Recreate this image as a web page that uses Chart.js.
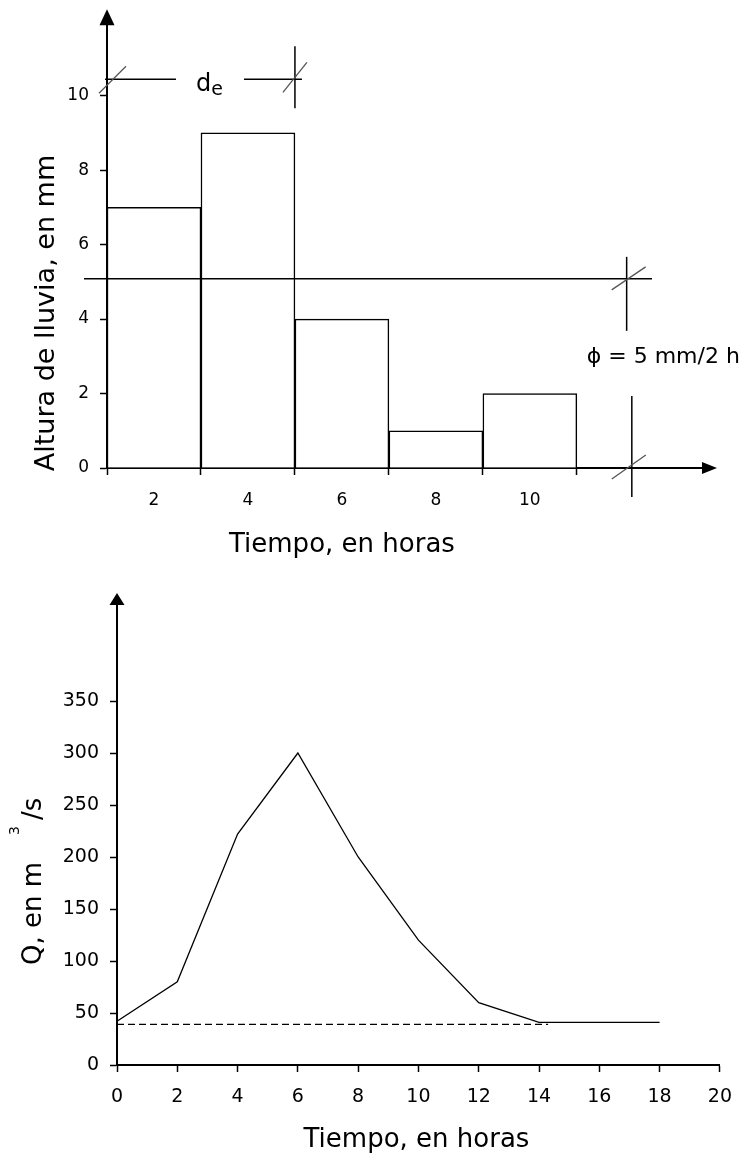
<!DOCTYPE html>
<html><head><meta charset="utf-8">
<script src="https://cdn.jsdelivr.net/npm/chart.js@4.4.0/dist/chart.umd.min.js"></script>
<style>
html,body{margin:0;padding:0;background:#fff;}
#wrap{position:relative;width:746px;height:1154px;background:#fff;}
canvas{position:absolute;left:0;}
#c1{top:0;}
#c2{top:570px;}
</style></head><body>
<div id="wrap"><canvas id="c1" width="746" height="570"></canvas><canvas id="c2" width="746" height="584"></canvas></div>
<script>
// ---------- data: rainfall hyetograph ----------
const rainHours = [2, 4, 6, 8, 10];
const rainDepth = [7, 9, 4, 1, 2];
const rainXTickLabels = ['2', '4', '6', '8', '10'];
const rainBinEdges = [1, 3, 5, 7, 9, 11];
const rainYTicks = [0, 2, 4, 6, 8, 10];
const phiIndex = 5.08;              // mm per 2 h line
const phiLabel = 'ϕ = 5 mm/2 h';
const deLevel = 10.44;
const deStart = 1, deEnd = 5;
const rainXTitle = 'Tiempo, en horas';
const rainYTitle = 'Altura de lluvia, en mm';

// ---------- data: hydrograph ----------
const flowHours = [0, 2, 4, 6, 8, 10, 12, 14, 16, 18];
const flowQ = [42, 80, 222, 300, 200, 120, 60, 41, 41, 41];
const baseHours = [0, 14.3];
const baseQ = [39, 39];
const flowXTicks = [0, 2, 4, 6, 8, 10, 12, 14, 16, 18, 20];
const flowYTicks = [0, 50, 100, 150, 200, 250, 300, 350];
const flowXTitle = 'Tiempo, en horas';
const flowYTitleMain = 'Q, en m';
const flowYTitleSup = '3';
const flowYTitleEnd = '/s';

const FONT = "'DejaVu Sans', Verdana, sans-serif";
Chart.defaults.font.family = FONT;
Chart.defaults.color = '#000';

function seg(ctx, x1, y1, x2, y2) { ctx.beginPath(); ctx.moveTo(x1, y1); ctx.lineTo(x2, y2); ctx.stroke(); }
function arrowUp(ctx, x, tip, len, half) { ctx.beginPath(); ctx.moveTo(x, tip); ctx.lineTo(x - half, tip + len); ctx.lineTo(x + half, tip + len); ctx.closePath(); ctx.fill(); }
function arrowRight(ctx, tip, y, len, half) { ctx.beginPath(); ctx.moveTo(tip, y); ctx.lineTo(tip - len, y - half); ctx.lineTo(tip - len, y + half); ctx.closePath(); ctx.fill(); }

const rainDecor = {
  id: 'rainDecor',
  afterDraw(chart) {
    const { ctx, chartArea: a, scales: { x, y } } = chart;
    ctx.save();
    ctx.fillStyle = '#000'; ctx.strokeStyle = '#000';
    arrowUp(ctx, a.left, a.top - 12, 16, 7.5);
    arrowRight(ctx, a.right + 10, a.bottom, 15, 6);

    // phi index line
    ctx.lineWidth = 1.5;
    const yp = y.getPixelForValue(phiIndex);
    seg(ctx, x.getPixelForValue(0.51), yp, x.getPixelForValue(12.6), yp);

    // d_e dimension line
    const yd = y.getPixelForValue(deLevel);
    const xs = x.getPixelForValue(deStart), xe = x.getPixelForValue(deEnd);
    const xm = (xs + xe) / 2 + 9;
    seg(ctx, xs - 2, yd, xm - 34, yd);
    seg(ctx, xm + 34, yd, xe + 7, yd);
    seg(ctx, xe, yd - 33, xe, yd + 29);
    ctx.font = '24px ' + FONT;
    ctx.textBaseline = 'alphabetic'; ctx.textAlign = 'left';
    const wd = ctx.measureText('d').width;
    ctx.fillText('d', xm - 14, yd + 12);
    ctx.font = '19px ' + FONT;
    ctx.fillText('e', xm - 14 + wd, yd + 16);

    // phi verticals
    const xv1 = x.getPixelForValue(12.06), xv2 = x.getPixelForValue(12.17);
    seg(ctx, xv1, yp - 22, xv1, yp + 52);
    seg(ctx, xv2, a.bottom - 72, xv2, a.bottom + 29);
    ctx.font = '22px ' + FONT;
    ctx.fillText(phiLabel, x.getPixelForValue(11.21), y.getPixelForValue(2.82));

    // slashes
    ctx.strokeStyle = '#555'; ctx.lineWidth = 1.3;
    seg(ctx, xs - 8, yd + 14, xs + 19, yd - 13);
    seg(ctx, xe - 12, yd + 13, xe + 12, yd - 17);
    seg(ctx, xv1 - 15, yp + 11, xv1 + 19, yp - 12);
    seg(ctx, xv2 - 20, a.bottom + 11, xv2 + 14, a.bottom - 13);

    // titles
    ctx.fillStyle = '#000';
    ctx.font = '26px ' + FONT; ctx.textAlign = 'center';
    const xc = (x.getPixelForValue(rainBinEdges[0]) + x.getPixelForValue(rainBinEdges[rainBinEdges.length - 1])) / 2;
    ctx.fillText(rainXTitle, xc, 552);
    ctx.save();
    ctx.translate(54, 313); ctx.rotate(-Math.PI / 2);
    ctx.font = '27px ' + FONT; ctx.textAlign = 'center';
    ctx.fillText(rainYTitle, 0, 0);
    ctx.restore();
    ctx.restore();
  }
};

new Chart(document.getElementById('c1'), {
  type: 'bar',
  data: {
    datasets: [{
      data: rainHours.map((h, i) => ({ x: h, y: rainDepth[i] })),
      backgroundColor: '#fff', borderColor: '#000', borderWidth: 1.5,
      barPercentage: 1, categoryPercentage: 1, xAxisID: 'x', yAxisID: 'y'
    }]
  },
  options: {
    responsive: false, animation: false, events: [],
    layout: { padding: { left: 0, right: 39, top: 19, bottom: 0 } },
    plugins: { legend: { display: false }, tooltip: { enabled: false } },
    scales: {
      x: {
        type: 'linear', position: 'bottom', weight: 0, min: 1, max: 13.77, offset: false,
        afterBuildTicks(s) { s.ticks = rainBinEdges.map(v => ({ value: v })); },
        afterFit(s) { s.height = 10; },
        grid: { drawOnChartArea: false, offset: false, drawTicks: true, tickLength: 7, tickWidth: 1.5, tickColor: '#000' },
        border: { display: true, color: '#000', width: 2 },
        ticks: { display: false }
      },
      x2: {
        type: 'linear', position: 'bottom', weight: 1, min: 1, max: 13.77, offset: false,
        afterBuildTicks(s) { s.ticks = rainHours.map(v => ({ value: v })); },
        afterFit(s) { s.height = 92; },
        grid: { display: false, drawTicks: false },
        border: { display: false },
        ticks: { autoSkip: false, maxRotation: 0, padding: 12, font: { size: 17 },
          callback: (v) => { const i = rainHours.indexOf(v); return i >= 0 ? rainXTickLabels[i] : ''; } }
      },
      y: {
        type: 'linear', min: 0, max: 12,
        afterBuildTicks(s) { s.ticks = rainYTicks.map(v => ({ value: v })); },
        afterFit(s) { s.width = 107; },
        grid: { drawOnChartArea: false, tickLength: 7, tickWidth: 1.5, tickColor: '#000' },
        border: { display: true, color: '#000', width: 2 },
        ticks: { padding: 11, font: { size: 17 } }
      }
    }
  },
  plugins: [rainDecor]
});

const flowDecor = {
  id: 'flowDecor',
  afterDraw(chart) {
    const { ctx, chartArea: a, scales: { x } } = chart;
    ctx.save();
    ctx.fillStyle = '#000';
    arrowUp(ctx, a.left, a.top - 4, 12, 7.5);
    ctx.font = '26px ' + FONT; ctx.textAlign = 'center'; ctx.textBaseline = 'alphabetic';
    ctx.fillText(flowXTitle, (a.left + a.right) / 2 - 2, 577);
    ctx.translate(41, 395); ctx.rotate(-Math.PI / 2);
    ctx.textAlign = 'left';
    ctx.fillText(flowYTitleMain, 0, 0);
    ctx.font = '14px ' + FONT;
    ctx.fillText(flowYTitleSup, 130, -22);
    ctx.font = '26px ' + FONT;
    ctx.fillText(flowYTitleEnd, 145, 0);
    ctx.restore();
  }
};

new Chart(document.getElementById('c2'), {
  type: 'line',
  data: {
    datasets: [
      { data: flowHours.map((h, i) => ({ x: h, y: flowQ[i] })), borderColor: '#000', borderWidth: 1.3, pointRadius: 0, fill: false, tension: 0 },
      { data: baseHours.map((h, i) => ({ x: h, y: baseQ[i] })), borderColor: '#000', borderWidth: 1.3, borderDash: [7, 4], pointRadius: 0, fill: false, tension: 0 }
    ]
  },
  options: {
    responsive: false, animation: false, events: [],
    layout: { padding: { left: 0, right: 18, top: 27, bottom: 0 } },
    plugins: { legend: { display: false }, tooltip: { enabled: false } },
    scales: {
      x: {
        type: 'linear', min: 0, max: 20, offset: false,
        afterBuildTicks(s) { s.ticks = flowXTicks.map(v => ({ value: v })); },
        afterFit(s) { s.height = 89; },
        grid: { drawOnChartArea: false, tickLength: 7, tickWidth: 1.5, tickColor: '#000' },
        border: { display: true, color: '#000', width: 2 },
        ticks: { autoSkip: false, maxRotation: 0, padding: 14, font: { size: 19 } }
      },
      y: {
        type: 'linear', min: 0, max: 450,
        afterBuildTicks(s) { s.ticks = flowYTicks.map(v => ({ value: v })); },
        afterFit(s) { s.width = 117; },
        grid: { drawOnChartArea: false, tickLength: 7, tickWidth: 1.5, tickColor: '#000' },
        border: { display: true, color: '#000', width: 2 },
        ticks: { padding: 11, font: { size: 19 } }
      }
    }
  },
  plugins: [flowDecor]
});
</script>
</body></html>
